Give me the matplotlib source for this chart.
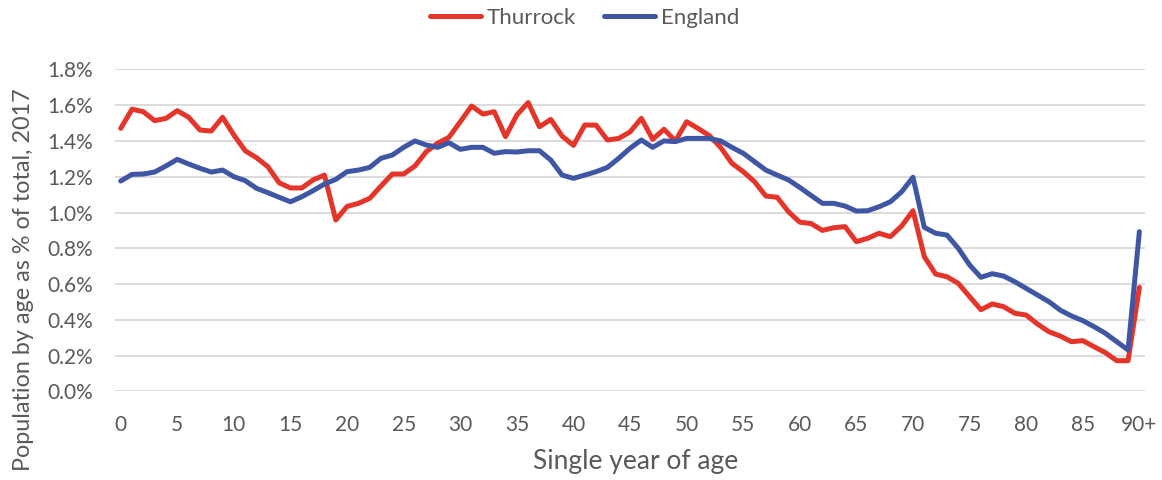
import numpy as np
import matplotlib
matplotlib.use("Agg")
import matplotlib.pyplot as plt
from matplotlib.ticker import FuncFormatter

plt.rcParams["font.family"] = ["Lato", "DejaVu Sans"]

# Share of total population at each single year of age, 2017 (%)
ages = list(range(91))
thurrock = [
    1.470, 1.577, 1.563, 1.513, 1.526, 1.569, 1.532, 1.461, 1.455, 1.532,
    1.433, 1.345, 1.306, 1.256, 1.166, 1.137, 1.137, 1.182, 1.209, 0.958,
    1.034, 1.051, 1.079, 1.148, 1.215, 1.215, 1.260, 1.340, 1.387, 1.420,
    1.507, 1.595, 1.550, 1.563, 1.424, 1.545, 1.614, 1.479, 1.520, 1.427,
    1.375, 1.489, 1.488, 1.405, 1.414, 1.450, 1.526, 1.409, 1.465, 1.400,
    1.507, 1.470, 1.430, 1.364, 1.275, 1.228, 1.172, 1.092, 1.085, 1.004,
    0.946, 0.938, 0.900, 0.915, 0.921, 0.837, 0.856, 0.884, 0.865, 0.925,
    1.010, 0.753, 0.656, 0.641, 0.604, 0.530, 0.457, 0.489, 0.474, 0.437,
    0.427, 0.377, 0.334, 0.310, 0.278, 0.284, 0.250, 0.217, 0.172, 0.172,
    0.582,
]
england = [
    1.176, 1.213, 1.215, 1.226, 1.260, 1.297, 1.271, 1.247, 1.226, 1.237,
    1.200, 1.178, 1.135, 1.111, 1.085, 1.060, 1.088, 1.122, 1.159, 1.185,
    1.228, 1.237, 1.252, 1.303, 1.321, 1.364, 1.400, 1.377, 1.364, 1.390,
    1.353, 1.364, 1.364, 1.331, 1.340, 1.338, 1.345, 1.345, 1.293, 1.209,
    1.191, 1.209, 1.228, 1.252, 1.303, 1.359, 1.405, 1.364, 1.400, 1.396,
    1.414, 1.414, 1.414, 1.400, 1.364, 1.331, 1.284, 1.237, 1.209, 1.182,
    1.140, 1.095, 1.051, 1.051, 1.036, 1.008, 1.010, 1.032, 1.060, 1.116,
    1.197, 0.917, 0.884, 0.874, 0.800, 0.707, 0.638, 0.658, 0.645, 0.613,
    0.576, 0.539, 0.502, 0.455, 0.422, 0.396, 0.362, 0.325, 0.278, 0.232,
    0.893,
]
tick_ages = list(range(0, 91, 5))
tick_labels = [str(a) for a in tick_ages[:-1]] + ["90+"]

text_color = "#595959"
grid_color = "#D9D9D9"

fig = plt.figure(figsize=(11.62, 4.8), dpi=100)
ax = fig.add_axes([0.099, 0.1844, 0.8864, 0.6712])

ax.plot(ages, thurrock, color="#E5352B", lw=3.6, label="Thurrock",
        solid_joinstyle="round", solid_capstyle="round", zorder=3)
ax.plot(ages, england, color="#3F56A5", lw=3.6, label="England",
        solid_joinstyle="round", solid_capstyle="round", zorder=3)

ax.set_xlim(-0.5, 90.5)
ax.set_ylim(0, 1.8)
ax.set_yticks(np.arange(0, 1.81, 0.2))
ax.yaxis.set_major_formatter(FuncFormatter(lambda v, _: f"{v:.1f}%"))
ax.set_xticks(tick_ages)
ax.set_xticklabels(tick_labels)

ax.grid(axis="y", color=grid_color, lw=1.3)
ax.set_axisbelow(True)
for s in ax.spines.values():
    s.set_visible(False)
ax.tick_params(length=0, labelsize=15, colors=text_color)
ax.tick_params(axis="y", pad=16)
ax.tick_params(axis="x", pad=17)

# Axis titles placed on the figure so they sit as in the chart area
fig.text(636 / 1162, 1 - 462 / 480, "Single year of age", fontsize=19,
         color=text_color, ha="center", va="center")
fig.text(24 / 1162, 1 - 280 / 480, "Population by age as % of total, 2017",
         fontsize=16.8, color=text_color, ha="center", va="center",
         rotation=90)

leg = fig.legend(loc="center", bbox_to_anchor=(0.503, 0.962), ncol=2,
                 frameon=False, fontsize=16, handlelength=2.3,
                 handletextpad=0.25, columnspacing=1.3)
for t in leg.get_texts():
    t.set_color(text_color)

fig.savefig("out.png", dpi=100)
